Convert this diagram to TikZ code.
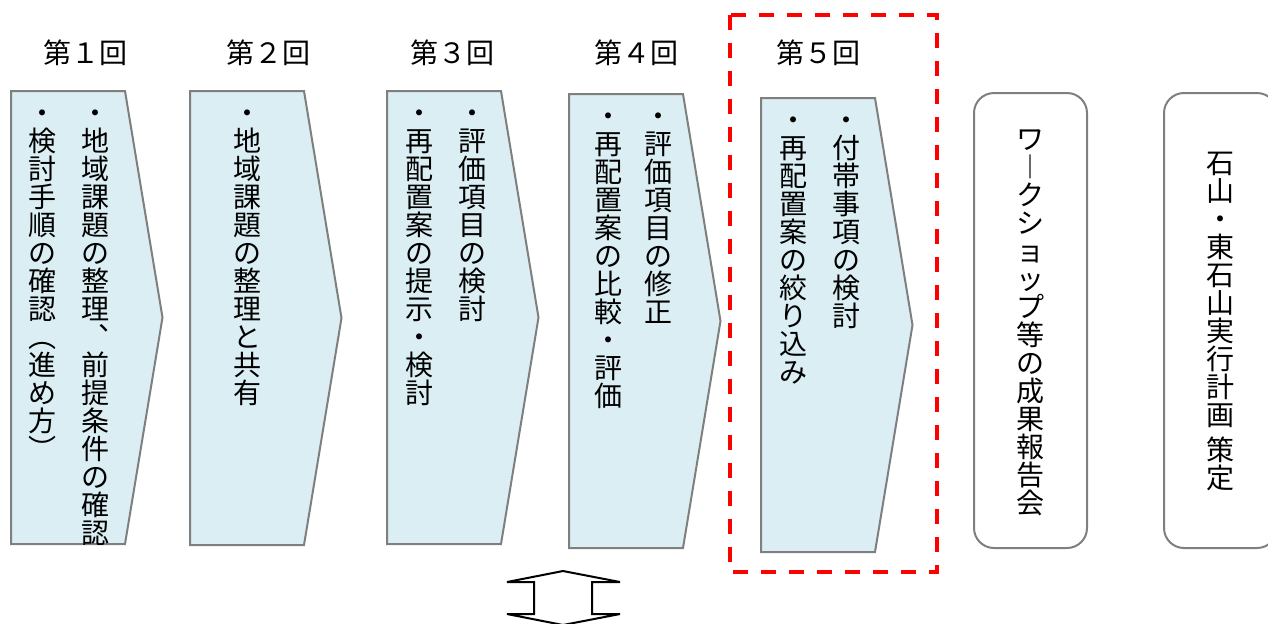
\documentclass[tikz,border=0pt]{standalone}
\usepackage{fontspec}
\setmainfont{Noto Sans CJK JP}
\definecolor{stagefill}{HTML}{DAEEF3}
\definecolor{stageline}{HTML}{7F7F7F}

% one character per cell, top to bottom
\newcommand\tateend{}
\def\tatecells#1{\ifx#1\tateend\else\hbox to 1em{\vrule height .88em depth .12em width 0pt\hss#1\hss}\expandafter\tatecells\fi}
\newcommand\tatecol[1]{\vtop{\offinterlineskip\tatecells#1\tateend}}

\begin{document}
\begin{tikzpicture}[x=0.5pt,y=-0.5pt]

	\tikzstyle stage lines=[draw=stageline, fill=stagefill, line width=1pt];
	\tikzstyle stage text=[anchor=north, inner sep=0pt, font=\fontsize{14pt}{14pt}\selectfont];
	\tikzstyle result box=[draw=stageline, line width=1pt, rounded corners=10pt, minimum width=56.5pt, minimum height=227.5pt, inner sep=0pt, font=\fontsize{14pt}{14pt}\selectfont];
	\tikzstyle focus frame=[draw=red, line width=2pt, dash pattern=on 7.5pt off 6.5pt];
	\tikzstyle swap arrow=[draw=black, line width=1pt];

	\useasboundingbox (0,0) rectangle (1268,623);

	% rounds
	\foreach \n/\x/\d in {1/85/１,2/268/２,3/452/３,4/636/４,5/818/５}
		\node[font=\fontsize{14pt}{17pt}\selectfont] (round\n) at (\x,53) {第\d{}回};

	% stages
	\foreach \l/\t/\b in {11/91/544,190/91/545,387/91/544,569/94/548,761/98/552}
		\draw[stage lines] (\l,\t) -- ++(114,0) -- ({\l+151.5},{(\t+\b)/2}) -- ({\l+114},\b) -- (\l,\b) -- cycle;

	\node[stage text] (stage1) at (68.5,98) {\tatecol{・検討手順の確認︵進め方︶}\hskip12.5pt\tatecol{・地域課題の整理︑前提条件の確認}};
	\node[stage text] (stage2) at (247,98) {\tatecol{・地域課題の整理と共有}};
	\node[stage text] (stage3) at (446,98) {\tatecol{・再配置案の提示・検討}\hskip12.5pt\tatecol{・評価項目の検討}};
	\node[stage text] (stage4) at (633,101) {\tatecol{・再配置案の比較・評価}\hskip11pt\tatecol{・評価項目の修正}};
	\node[stage text] (stage5) at (819.5,105) {\tatecol{・再配置案の絞り込み}\hskip12.5pt\tatecol{・付帯事項の検討}};

	\draw[focus frame] (730,15) rectangle (937,572);

	\node[result box] (report) at (1030.5,320.5) {\tatecol{ワ︱クショップ等の成果報告会}};
	\node[result box] (plan) at (1220.5,320.5) {\vtop{\offinterlineskip\tatecells 石山・東石山実行計画\tateend\kern3.5pt\tatecells 策定\tateend}};

	\draw[swap arrow] (563,571) -- (620,582) -- (592,582) -- (592,614) -- (620,614) -- (563,625)
		-- (507,614) -- (534,614) -- (534,582) -- (507,582) -- cycle;

\end{tikzpicture}
\end{document}
